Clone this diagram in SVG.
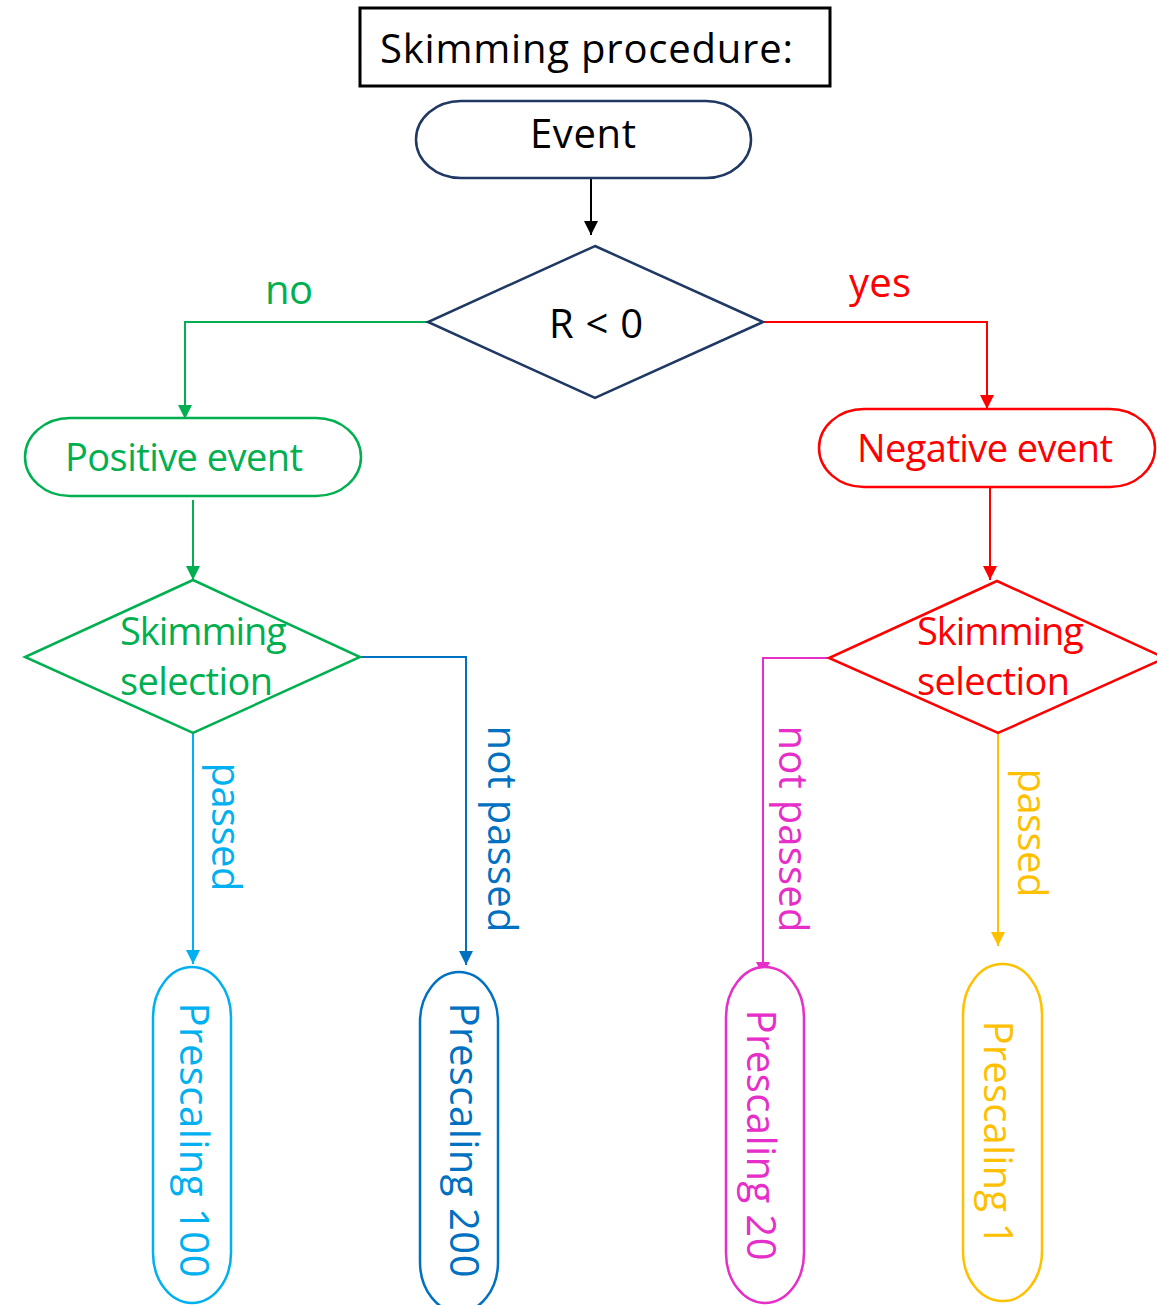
<svg xmlns="http://www.w3.org/2000/svg" width="1157" height="1305" viewBox="0 0 1157 1305">
<defs>
<style>
text{font-family:"Open Sans","Noto Sans",sans-serif;font-size:40px}
.mid{text-anchor:middle}
.sm{font-size:38px}
.shape{fill:#fff;stroke-width:2.5}
.con{fill:none;stroke-width:2}
</style>
<marker id="aK" viewBox="0 0 10 10" refX="10" refY="5" markerWidth="15" markerHeight="14" markerUnits="userSpaceOnUse" orient="auto"><path d="M0,0L10,5L0,10z" fill="#000"/></marker>
<marker id="aG" viewBox="0 0 10 10" refX="10" refY="5" markerWidth="15" markerHeight="14" markerUnits="userSpaceOnUse" orient="auto"><path d="M0,0L10,5L0,10z" fill="#00B050"/></marker>
<marker id="aR" viewBox="0 0 10 10" refX="10" refY="5" markerWidth="15" markerHeight="14" markerUnits="userSpaceOnUse" orient="auto"><path d="M0,0L10,5L0,10z" fill="#FF0000"/></marker>
<marker id="aL" viewBox="0 0 10 10" refX="10" refY="5" markerWidth="15" markerHeight="14" markerUnits="userSpaceOnUse" orient="auto"><path d="M0,0L10,5L0,10z" fill="#00B0F0"/></marker>
<marker id="aB" viewBox="0 0 10 10" refX="10" refY="5" markerWidth="15" markerHeight="14" markerUnits="userSpaceOnUse" orient="auto"><path d="M0,0L10,5L0,10z" fill="#0070C0"/></marker>
<marker id="aM" viewBox="0 0 10 10" refX="10" refY="5" markerWidth="15" markerHeight="14" markerUnits="userSpaceOnUse" orient="auto"><path d="M0,0L10,5L0,10z" fill="#E62EC8"/></marker>
<marker id="aY" viewBox="0 0 10 10" refX="10" refY="5" markerWidth="15" markerHeight="14" markerUnits="userSpaceOnUse" orient="auto"><path d="M0,0L10,5L0,10z" fill="#FFC000"/></marker>
</defs>
<rect width="1157" height="1305" fill="#fff"/>

<g id="connectors">
<path class="con" stroke="#000" d="M591,178V235" marker-end="url(#aK)"/>
<path class="con" stroke="#00B050" d="M428,322H185V419" marker-end="url(#aG)"/>
<path class="con" stroke="#FF0000" d="M763,322H987V409" marker-end="url(#aR)"/>
<path class="con" stroke="#00B050" d="M193,500V580" marker-end="url(#aG)"/>
<path class="con" stroke="#FF0000" d="M990,487V580" marker-end="url(#aR)"/>
<path class="con" stroke="#00B0F0" d="M193,733V964" marker-end="url(#aL)"/>
<path class="con" stroke="#0070C0" d="M360,657H466V965" marker-end="url(#aB)"/>
<path class="con" stroke="#E62EC8" d="M829,658H763V976" marker-end="url(#aM)"/>
<path class="con" stroke="#FFC000" d="M998,733V946" marker-end="url(#aY)"/>
<text fill="#00B050" class="mid" x="289" y="304" textLength="48">no</text>
<text fill="#FF0000" class="mid" x="880" y="297" textLength="62">yes</text>
<text fill="#00B0F0" class="mid" transform="translate(212,827) rotate(90)" textLength="129">passed</text>
<text fill="#0070C0" class="mid" transform="translate(488,829) rotate(90)" textLength="207">not passed</text>
<text fill="#E62EC8" class="mid" transform="translate(779,829) rotate(90)" textLength="207">not passed</text>
<text fill="#FFC000" class="mid" transform="translate(1018,833) rotate(90)" textLength="129">passed</text>
</g>

<g id="title">
<rect x="360" y="8" width="470" height="78" fill="#fff" stroke="#000" stroke-width="3"/>
<text x="380" y="63" textLength="413">Skimming procedure:</text>
</g>

<g id="event">
<rect class="shape" x="416" y="101" width="335" height="77" rx="45" ry="38.5" stroke="#1F3864"/>
<text class="mid" x="583" y="148" textLength="106">Event</text>
</g>

<g id="decision">
<polygon class="shape" points="595,246 763,322 595,398 428,322" stroke="#1F3864"/>
<text class="mid" x="596" y="338" textLength="94">R &lt; 0</text>
</g>

<g id="positive">
<rect class="shape" x="25" y="418" width="336" height="78" rx="45" ry="39" stroke="#00B050"/>
<text class="mid sm" fill="#00B050" x="184" y="471" textLength="238">Positive event</text>
</g>

<g id="negative">
<rect class="shape" x="819" y="409" width="336" height="78" rx="45" ry="39" stroke="#FF0000"/>
<text class="mid sm" fill="#FF0000" x="985" y="462" textLength="256">Negative event</text>
</g>

<g id="selPos">
<polygon class="shape" points="193,580 360,657 193,733 25,657" stroke="#00B050"/>
<text class="sm" fill="#00B050" x="120" y="645" textLength="167">Skimming</text>
<text class="sm" fill="#00B050" x="120" y="695" textLength="153">selection</text>
</g>

<g id="selNeg">
<polygon class="shape" points="997,581 1165,658 998,733 829,658" stroke="#FF0000"/>
<text class="sm" fill="#FF0000" x="917" y="645" textLength="167">Skimming</text>
<text class="sm" fill="#FF0000" x="917" y="695" textLength="153">selection</text>
</g>

<g id="pre100">
<rect class="shape" x="153" y="967" width="78" height="336" rx="39" ry="50" stroke="#00B0F0"/>
<text fill="#00B0F0" class="mid" transform="translate(180,1140) rotate(90)" textLength="275">Prescaling 100</text>
</g>

<g id="pre200">
<rect class="shape" x="420" y="972" width="78" height="340" rx="39" ry="50" stroke="#0070C0"/>
<text fill="#0070C0" class="mid" transform="translate(450,1140) rotate(90)" textLength="275">Prescaling 200</text>
</g>

<g id="pre20">
<rect class="shape" x="726" y="967" width="78" height="336" rx="39" ry="50" stroke="#E62EC8"/>
<text fill="#E62EC8" class="mid" transform="translate(747,1135) rotate(90)" textLength="251">Prescaling 20</text>
</g>

<g id="pre1">
<rect class="shape" x="963" y="964" width="79" height="337" rx="39" ry="50" stroke="#FFC000"/>
<text fill="#FFC000" class="mid" transform="translate(984,1133) rotate(90)" textLength="225">Prescaling 1</text>
</g>
</svg>
